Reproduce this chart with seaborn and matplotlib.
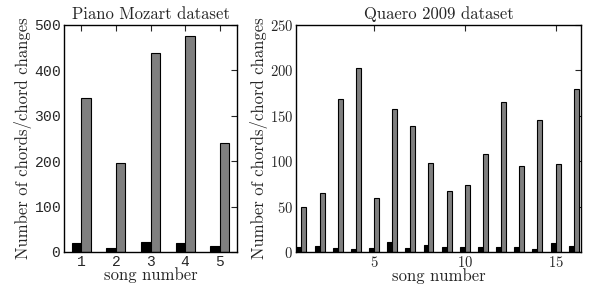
import pandas as pd
import matplotlib
matplotlib.use("Agg")
import matplotlib.pyplot as plt
import seaborn as sns

# Piano Mozart dataset
mozart_songs = [1, 2, 3, 4, 5]
mozart_chords = [20, 9, 22, 20, 13]
mozart_changes = [340, 196, 439, 476, 240]

# Quaero 2009 dataset
quaero_songs = list(range(1, 17))
quaero_chords = [6, 7, 4, 3, 4, 11, 4, 8, 5, 5, 6, 5, 5, 3, 10, 7]
quaero_changes = [50, 65, 169, 203, 60, 157, 139, 98, 67, 74, 108, 165, 95, 145, 97, 179]


def long_form(songs, chords, changes):
    return pd.DataFrame({
        "song": songs + songs,
        "count": chords + changes,
        "kind": ["chords"] * len(songs) + ["changes"] * len(songs),
    })


sns.set_style("white")
plt.rcParams["font.family"] = ["cmr10", "DejaVu Serif"]
plt.rcParams["axes.unicode_minus"] = False
plt.rcParams["axes.formatter.use_mathtext"] = True
plt.rcParams["axes.edgecolor"] = "black"
plt.rcParams["axes.linewidth"] = 1.0

fig = plt.figure(figsize=(5.89, 2.86), dpi=100)
ax1 = fig.add_axes([0.1087, 0.1189, 0.2937, 0.7937])
ax2 = fig.add_axes([0.5025, 0.1189, 0.4839, 0.7937])

colors = ["black", "#7f7f7f"]

sns.barplot(data=long_form(mozart_songs, mozart_chords, mozart_changes),
            x="song", y="count", hue="kind", palette=colors, native_scale=True,
            width=0.55, edgecolor="black", linewidth=0.8, legend=False, ax=ax1)
sns.barplot(data=long_form(quaero_songs, quaero_chords, quaero_changes),
            x="song", y="count", hue="kind", palette=colors, native_scale=True,
            width=0.55, edgecolor="black", linewidth=0.8, legend=False, ax=ax2)

ax1.set_xlim(0.5, 5.5)
ax1.set_ylim(0, 500)
ax1.set_xticks(mozart_songs)
ax1.set_yticks(range(0, 501, 100))
for lab in ax1.get_xticklabels() + ax1.get_yticklabels():
    lab.set_family("Liberation Mono")
    lab.set_fontsize(10.5)

ax2.set_xlim(0.7, 16.4)
ax2.set_ylim(0, 250)
ax2.set_xticks([5, 10, 15])
ax2.set_yticks(range(0, 251, 50))
ax2.tick_params(labelsize=10.5)

for ax, title in [(ax1, "Piano Mozart dataset"), (ax2, "Quaero 2009 dataset")]:
    ax.set_title(title, fontsize=12, pad=4)
    ax.set_xlabel("song number", fontsize=12, labelpad=-1)
    ax.set_ylabel("Number of chords/chord changes", fontsize=12, labelpad=1)
    ax.tick_params(direction="in", length=4, width=0.8, top=True, right=True, pad=2)
    for s in ax.spines.values():
        s.set_visible(True)
        s.set_color("black")

fig.savefig("out.png", dpi=100)
